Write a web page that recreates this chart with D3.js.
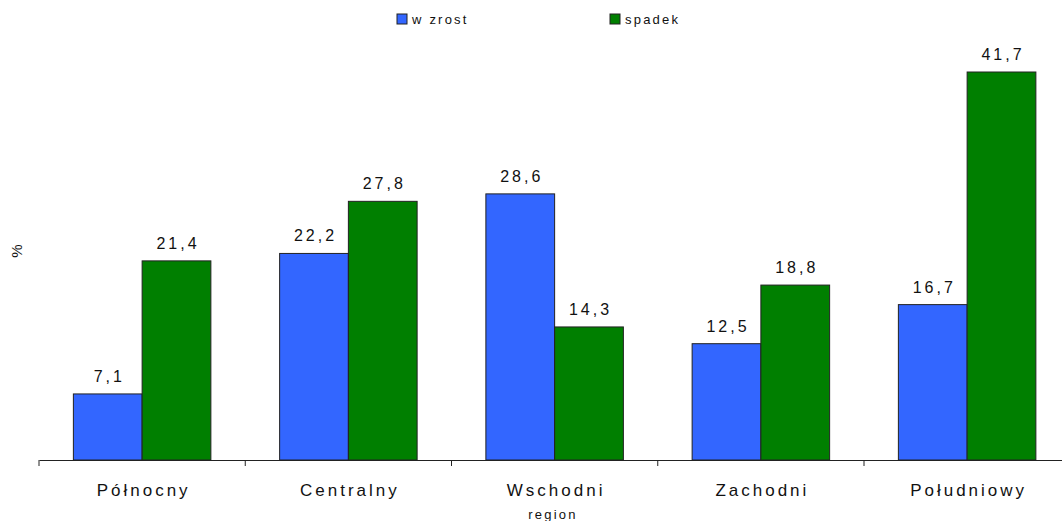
<!DOCTYPE html>
<html>
<head>
<meta charset="utf-8">
<script src="https://cdn.jsdelivr.net/npm/d3@7"></script>
<style>
  body { margin: 0; background: #fff; }
  text { font-family: "Liberation Sans", Arial, sans-serif; fill: #111; }
</style>
</head>
<body>
<svg id="chart" width="1062" height="521"></svg>
<script>
var categories = ['Północny', 'Centralny', 'Wschodni', 'Zachodni', 'Południowy'];
var seriesNames = ['wzrost', 'spadek'];
var wzrost = [7.1, 22.2, 28.6, 12.5, 16.7];
var spadek = [21.4, 27.8, 14.3, 18.8, 41.7];
var colors = ['#3366FF', '#007F00'];

var svg = d3.select('#chart');
var left = 39, baseY = 460, bandW = 206.25;

var x = d3.scaleBand().domain(categories)
  .range([left, left + bandW * categories.length])
  .paddingInner(0).paddingOuter(0);
var x1 = d3.scaleBand().domain(seriesNames)
  .range([bandW / 6, bandW * 5 / 6]);
var y = d3.scaleLinear().domain([0, 41.7]).range([baseY, 72]);

var rows = categories.map(function(c, i) {
  return {cat: c, vals: [wzrost[i], spadek[i]]};
});

var groups = svg.append('g').selectAll('g').data(rows).enter()
  .append('g')
  .attr('transform', function(d) { return 'translate(' + x(d.cat) + ',0)'; });

groups.each(function(d) {
  var g = d3.select(this);
  d.vals.forEach(function(v, j) {
    g.append('rect')
      .attr('x', x1(seriesNames[j]))
      .attr('y', y(v))
      .attr('width', x1.bandwidth())
      .attr('height', baseY - y(v))
      .style('fill', colors[j])
      .style('stroke', '#222')
      .style('stroke-width', 1);
    g.append('text')
      .attr('x', x1(seriesNames[j]) + x1.bandwidth() / 2 + 1.5)
      .attr('y', y(v) - 12)
      .attr('text-anchor', 'middle')
      .style('font-size', '16px')
      .style('letter-spacing', '3px')
      .text(String(v.toFixed(1)).replace('.', ','));
  });
});

// x axis
var axis = d3.axisBottom(x).tickSize(0).tickFormat('');
var ax = svg.append('g').attr('transform', 'translate(0,' + baseY + ')').call(axis);
ax.select('.domain').style('stroke', '#222');
var bounds = d3.range(categories.length + 1).map(function(i) { return left + i * bandW; });
ax.selectAll('line.sep').data(bounds).enter().append('line')
  .attr('x1', function(d) { return d; }).attr('x2', function(d) { return d; })
  .attr('y1', 0).attr('y2', 6)
  .style('stroke', '#222');
svg.append('g').selectAll('text').data(categories).enter().append('text')
  .attr('x', function(d) { return x(d) + bandW / 2 + 1.5; })
  .attr('y', 496)
  .attr('text-anchor', 'middle')
  .style('font-size', '17px')
  .style('letter-spacing', '3px')
  .text(function(d) { return d; });

svg.append('text')
  .attr('x', 553).attr('y', 519)
  .attr('text-anchor', 'middle')
  .style('font-size', '13px')
  .style('letter-spacing', '2.2px')
  .text('region');

svg.append('text')
  .attr('transform', 'translate(22,251) rotate(-90)')
  .attr('text-anchor', 'middle')
  .style('font-size', '15px')
  .text('%');

// legend
var legendX = [397, 610];
var legend = svg.append('g');
seriesNames.forEach(function(s, i) {
  legend.append('rect')
    .attr('x', legendX[i]).attr('y', 14)
    .attr('width', 10).attr('height', 10)
    .style('fill', colors[i]).style('stroke', '#222');
  legend.append('text')
    .attr('x', legendX[i] + 15).attr('y', 24)
    .style('font-size', '13px')
    .style('letter-spacing', '2.2px')
    .text(s === 'wzrost' ? 'w zrost' : s);
});
</script>
</body>
</html>
